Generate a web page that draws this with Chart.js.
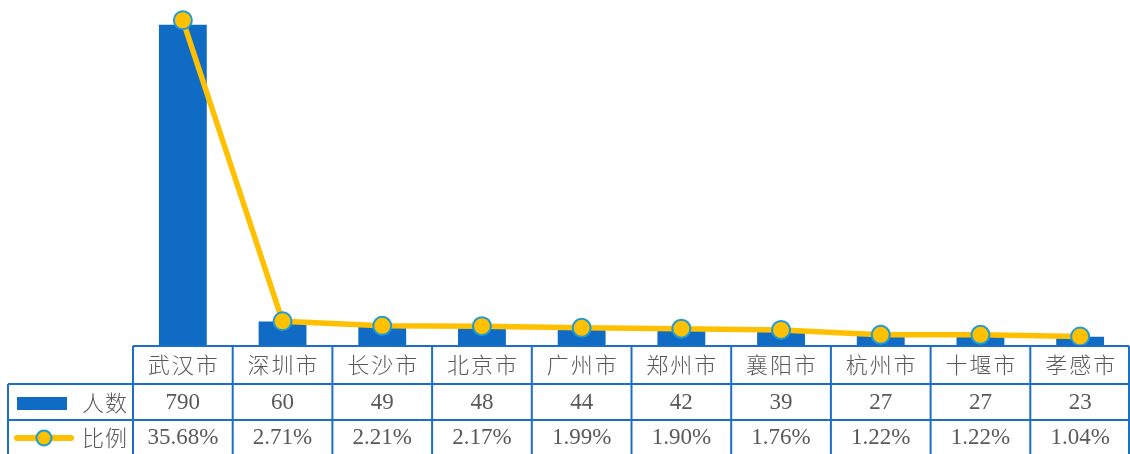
<!DOCTYPE html>
<html><head><meta charset="utf-8">
<script src="https://cdn.jsdelivr.net/npm/chart.js@4/dist/chart.umd.min.js"></script>
<style>html,body{margin:0;padding:0;background:#fff;}canvas{display:block;}</style>
</head><body>
<canvas id="c" width="1130" height="454"></canvas>
<script>
const categories = ['武汉市','深圳市','长沙市','北京市','广州市','郑州市','襄阳市','杭州市','十堰市','孝感市'];
const counts = [790, 60, 49, 48, 44, 42, 39, 27, 27, 23];
const ratios = [35.68, 2.71, 2.21, 2.17, 1.99, 1.90, 1.76, 1.22, 1.22, 1.04];
const countLabels = ['790','60','49','48','44','42','39','27','27','23'];
const ratioLabels = ['35.68%','2.71%','2.21%','2.17%','1.99%','1.90%','1.76%','1.22%','1.22%','1.04%'];
const seriesNames = ['人数','比例'];

const BLUE = '#106BC5', YELLOW = '#FFC000', MARK_BORDER = '#1E9AD6', GRID = '#1C6FC6', TEXT = '#595959';
const NUM_FONT = '23px "Liberation Serif", serif';
const CJK_FONT = '300 22px "Noto Sans CJK SC", sans-serif';

const tablePlugin = {
  id: 'dataTable',
  afterDraw(chart) {
    const ctx = chart.ctx, x = chart.scales.x, area = chart.chartArea;
    const top = area.bottom, r1 = 384, r2 = 420, bot = 454, legL = 8;
    const n = categories.length;
    const colW = (area.right - area.left) / n;
    ctx.save();
    ctx.strokeStyle = GRID; ctx.lineWidth = 2;
    ctx.beginPath();
    ctx.moveTo(area.left, top); ctx.lineTo(area.right - 1, top);
    ctx.moveTo(legL, r1); ctx.lineTo(area.right - 1, r1);
    ctx.moveTo(legL, r2); ctx.lineTo(area.right - 1, r2);
    ctx.moveTo(legL, r1); ctx.lineTo(legL, bot);
    for (let i = 0; i <= n; i++) {
      let xx = area.left + i * colW; if (i === n) xx -= 1;
      ctx.moveTo(xx, top); ctx.lineTo(xx, bot);
    }
    ctx.stroke();
    ctx.fillStyle = TEXT; ctx.textAlign = 'center'; ctx.textBaseline = 'middle';
    for (let i = 0; i < n; i++) {
      const cx = x.getPixelForValue(i);
      ctx.font = CJK_FONT; ctx.letterSpacing = '2px';
      ctx.fillText(categories[i], cx + 1, 365);
      ctx.font = NUM_FONT; ctx.letterSpacing = '0px';
      ctx.fillText(countLabels[i], cx, 403);
      ctx.fillText(ratioLabels[i], cx, 438);
    }
    // legend keys
    ctx.fillStyle = BLUE; ctx.fillRect(17, 397, 50, 13);
    ctx.strokeStyle = YELLOW; ctx.lineWidth = 6; ctx.lineCap = 'round';
    ctx.beginPath(); ctx.moveTo(17, 438); ctx.lineTo(71, 438); ctx.stroke();
    ctx.beginPath(); ctx.arc(44, 438, 7.5, 0, Math.PI * 2);
    ctx.fillStyle = YELLOW; ctx.fill(); ctx.lineWidth = 2; ctx.strokeStyle = MARK_BORDER; ctx.stroke();
    ctx.fillStyle = TEXT; ctx.textAlign = 'left';
    ctx.font = CJK_FONT; ctx.letterSpacing = '1px';
    ctx.fillText(seriesNames[0], 82, 403);
    ctx.fillText(seriesNames[1], 82, 438);
    ctx.restore();
  }
};

new Chart(document.getElementById('c'), {
  data: {
    labels: categories,
    datasets: [
      { type: 'line', label: seriesNames[1], data: ratios, yAxisID: 'y1', order: 0,
        borderColor: YELLOW, borderWidth: 5.5, pointRadius: 9, pointHoverRadius: 9,
        pointBackgroundColor: YELLOW, pointBorderColor: MARK_BORDER, pointBorderWidth: 2,
        tension: 0, clip: false },
      { type: 'bar', label: seriesNames[0], data: counts, yAxisID: 'y', order: 1,
        backgroundColor: BLUE, categoryPercentage: 1, barPercentage: 0.48 }
    ]
  },
  options: {
    responsive: false, animation: false, devicePixelRatio: 1,
    layout: { autoPadding: false, padding: { left: 133, right: 0, top: 0, bottom: 108 } },
    plugins: { legend: { display: false }, tooltip: { enabled: false } },
    scales: {
      x: { display: false, offset: true },
      y: { display: false, min: 0, max: 851 },
      y1: { display: false, min: 0, max: 37.9, position: 'right' }
    }
  },
  plugins: [tablePlugin]
});
</script>
</body></html>
